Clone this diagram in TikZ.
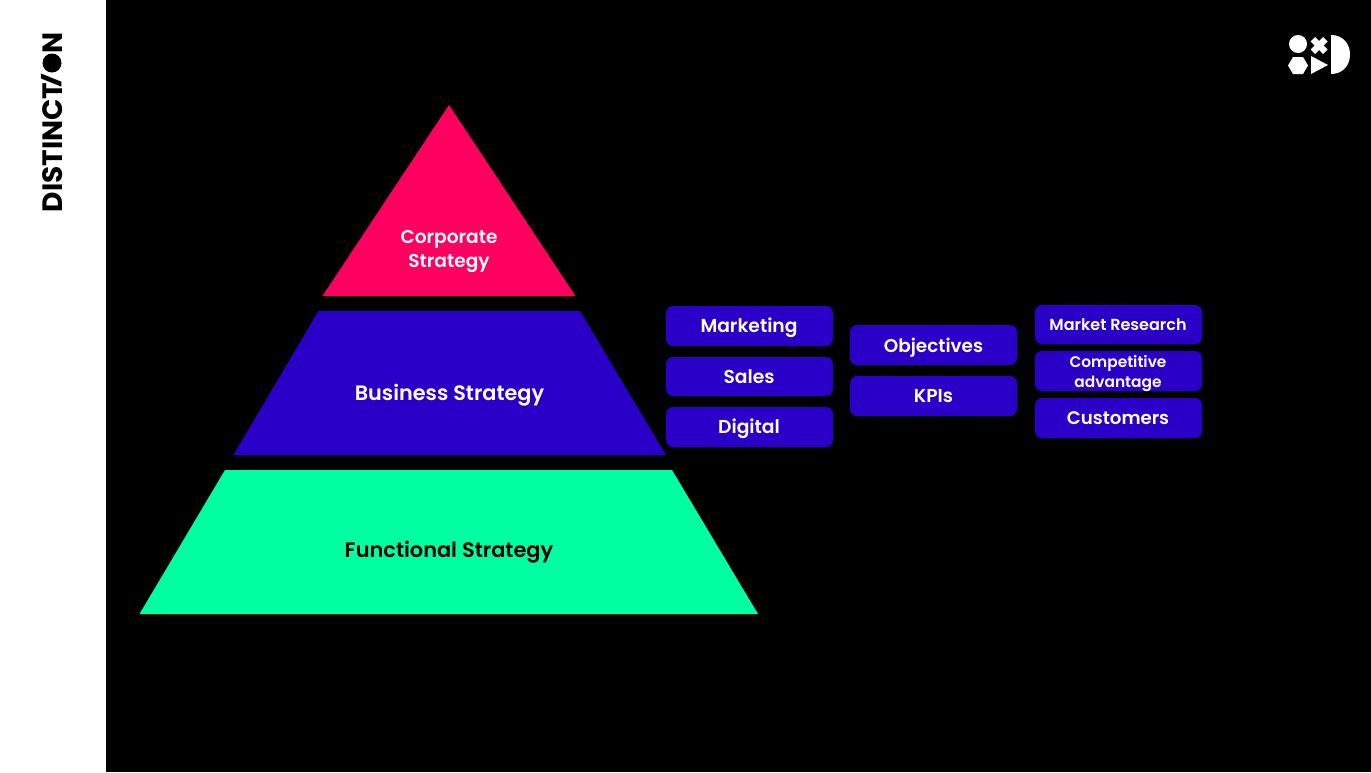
\documentclass[tikz,border=0pt]{standalone}
\usepackage{graphicx}
\usepackage{fontspec}
\setmainfont{Poppins}[UprightFont=* SemiBold,BoldFont=* Bold]
\newfontfamily\logofont{Poppins}[UprightFont=* Bold]
\definecolor{pinkc}{HTML}{FF0060}
\definecolor{bluec}{HTML}{2A00C8}
\definecolor{greenc}{HTML}{00FFA0}
\newcommand{\fsz}[1]{\fontsize{#1}{#1}\selectfont}
\tikzset{
  x=1pt,y=-1pt,
  tierlabel/.style={inner sep=0pt,anchor=base,text=white},
  boxa/.style={fill=bluec,rounded corners=7pt,minimum width=167pt,inner sep=0pt},
  boxtext/.style={inner sep=0pt,anchor=base,text=white,font=\fsz{18.7}},
  wordmark/.style={rotate=90,anchor=base west,inner sep=0pt,font=\logofont\fsz{28},text=black},
}
\begin{document}
\begin{tikzpicture}
\useasboundingbox (0,0) rectangle (1371,772);
\fill[black] (0,0) rectangle (1371,772);
\fill[white] (0,0) rectangle (106,772);
% pyramid
\fill[pinkc] (449,105) -- (575.5,296) -- (322.5,296) -- cycle;
\fill[bluec] (318.5,311) -- (580,311) -- (666,455) -- (233.5,455) -- cycle;
\fill[greenc] (225,470) -- (672,470) -- (758,614) -- (139.5,614) -- cycle;
\node[tierlabel,font=\fsz{18.6}] (corp1) at (449,243) {Corporate};
\node[tierlabel,font=\fsz{18.6}] (corp2) at (449,267) {Strategy};
\node[tierlabel,font=\fsz{20.8}] (bus) at (449.5,400) {Business Strategy};
\node[tierlabel,font=\fsz{20.9},text=black] (func) at (449,557) {Functional Strategy};
% boxes
\node[boxa,minimum height=40pt] (mkt) at (749.5,326) {};
\node[boxa,minimum height=39pt] (sales) at (749.5,376.5) {};
\node[boxa,minimum height=40pt] (dig) at (749.5,427) {};
\node[boxa,minimum height=40pt] (obj) at (933.5,345) {};
\node[boxa,minimum height=40pt] (kpi) at (933.5,396) {};
\node[boxa,minimum height=39pt] (mr) at (1118.5,324.5) {};
\node[boxa,minimum height=40pt] (comp) at (1118.5,371) {};
\node[boxa,minimum height=40pt] (cust) at (1118.5,418) {};
\node[boxtext] (mktt) at (749,332) {Marketing};
\node[boxtext] (salest) at (749,383) {Sales};
\node[boxtext] (digt) at (749,433) {Digital};
\node[boxtext,font=\fsz{18.4}] (objt) at (933.5,352) {Objectives};
\node[boxtext] (kpit) at (933.5,402) {KPIs};
\node[boxtext,font=\fsz{16}] (mrt) at (1118,330) {Market Research};
\node[boxtext,font=\fsz{15.4}] (compa) at (1118,367) {Competitive};
\node[boxtext,font=\fsz{15.4}] (compb) at (1118,387) {advantage};
\node[boxtext,font=\fsz{18.2}] (custt) at (1118,424) {Customers};
% wordmark
\node[wordmark] (wm) at (62,212.5) {DISTINCT};
\node[wordmark,font=\logofont\fsz{18}] (ws) at (58,87.5) {\scalebox{1.7}[1]{/}};
\fill[black] (52,63) circle (9.5);
\node[wordmark] (wn) at (62,54) {N};
% logo
\fill[white] (1298,44) circle (9);
\fill[white] (1310.5,41.5) -- (1315,37) -- (1319,41) -- (1323,37) -- (1327.5,41.5) -- (1323.5,45.5) -- (1327.5,49.5) -- (1323,54) -- (1319,50) -- (1315,54) -- (1310.5,49.5) -- (1314.5,45.5) -- cycle;
\fill[white] (1288,65.5) -- (1293,57) -- (1303,57) -- (1308,65.5) -- (1303,74) -- (1293,74) -- cycle;
\fill[white] (1311,56) -- (1328,65) -- (1311,74) -- cycle;
\fill[white] (1331,35) .. controls (1343,35) and (1350,44) .. (1350,54.5) .. controls (1350,65) and (1343,74) .. (1331,74) -- cycle;
\end{tikzpicture}
\end{document}
